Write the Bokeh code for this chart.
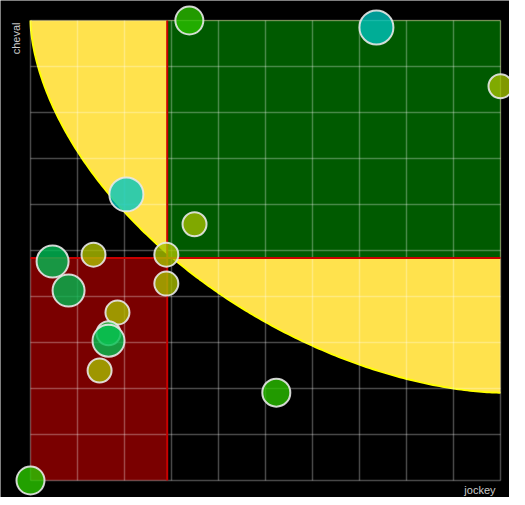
import numpy as np
from bokeh.plotting import figure
from bokeh.models import Range1d, Label
from bokeh.embed import file_html
from bokeh.resources import INLINE

# ---- data ----
jockey = [3.38, 7.36, 10.0, 2.04, 3.49, 0.47, 1.34, 2.89, 0.81, 2.89, 1.85, 1.66, 1.66, 1.47, 5.23, 0.0]
cheval = [10.0, 9.85, 8.57, 6.22, 5.57, 4.76, 4.91, 4.91, 4.13, 4.28, 3.65, 3.20, 3.04, 2.39, 1.91, 0.0]
radius_px = [14, 17, 12, 17, 12, 16, 12, 12, 16, 12, 12, 12, 16, 12, 14, 14]
colors = ["#2ac000", "#00c2bb", "#a0be00", "#00c6c0", "#a0bc00", "#00bd55", "#acbe00", "#a8c000",
          "#00b850", "#a8bc00", "#a8bc00", "#2ad055", "#00c050", "#a8bc00", "#2ac000", "#2ac800"]
frontier_end = 1.91
frontier_power = 1.72

xmin, xmax = min(jockey), max(jockey)
ymin, ymax = min(cheval), max(cheval)
xmean = float(np.mean(jockey))
ymean = float(np.mean(cheval))

# layout in pixels: data area is 470 x 460 inside a 509 x 497 canvas
DW, DH = 470, 460
PL, PR, PT, PB = 30, 9, 20, 17
sx = (xmax - xmin) / DW
sy = (ymax - ymin) / DH

p = figure(width=DW + PL + PR, height=DH + PT + PB, output_backend="svg", toolbar_location=None,
           x_axis_location=None, y_axis_location=None, min_border=0,
           x_range=Range1d(xmin - PL * sx, xmax + PR * sx),
           y_range=Range1d(ymin - PB * sy, ymax + PT * sy))
p.background_fill_color = "black"
p.border_fill_color = "black"
p.outline_line_color = None
p.xgrid.visible = False
p.ygrid.visible = False

# yellow frontier region
t = np.linspace(0, np.pi / 2, 200)
cx = xmax - (xmax - xmin) * np.cos(t) ** (2 / frontier_power)
cy = ymax - (ymax - frontier_end) * np.sin(t) ** (2 / frontier_power)
px = list(cx) + [xmax]
py = list(cy) + [ymax]
p.patch(px, py, fill_color="#ffe24d", line_color=None)
p.line(cx, cy, line_color="#ffff00", line_width=2)

# quadrants
p.quad(left=[xmin], right=[xmean], bottom=[ymin], top=[ymean], fill_color="#7a0000", line_color=None)
p.quad(left=[xmean], right=[xmax], bottom=[ymean], top=[ymax], fill_color="#005a00", line_color=None)

# grid
gx = np.linspace(xmin, xmax, 11)
gy = np.linspace(ymin, ymax, 11)
p.segment(x0=gx, y0=[ymin] * 11, x1=gx, y1=[ymax] * 11, line_color="white", line_alpha=0.28, line_width=1.5)
p.segment(x0=[xmin] * 11, y0=gy, x1=[xmax] * 11, y1=gy, line_color="white", line_alpha=0.28, line_width=1.5)

# mean lines
p.segment(x0=[xmean, xmin], y0=[ymin, ymean], x1=[xmean, xmax], y1=[ymax, ymean],
          line_color="#c80000", line_width=2)

# points
p.scatter(jockey, cheval, size=[2 * r for r in radius_px], fill_color=colors, fill_alpha=0.8,
          line_color="#e8e8e8", line_width=2, line_alpha=0.9)

lab_font = "Liberation Sans"
p.add_layout(Label(x=xmin, y=ymax, x_offset=-15, y_offset=-2, text="cheval", angle=np.pi / 2,
                   text_align="right", text_baseline="middle", text_font=lab_font,
                   text_font_size="11px", text_color="#cccccc"))
p.add_layout(Label(x=xmax, y=ymin, x_offset=-5, y_offset=-9, text="jockey",
                   text_align="right", text_baseline="middle", text_font=lab_font,
                   text_font_size="11px", text_color="#cccccc"))

open("out.html", "w").write(file_html(p, INLINE))
